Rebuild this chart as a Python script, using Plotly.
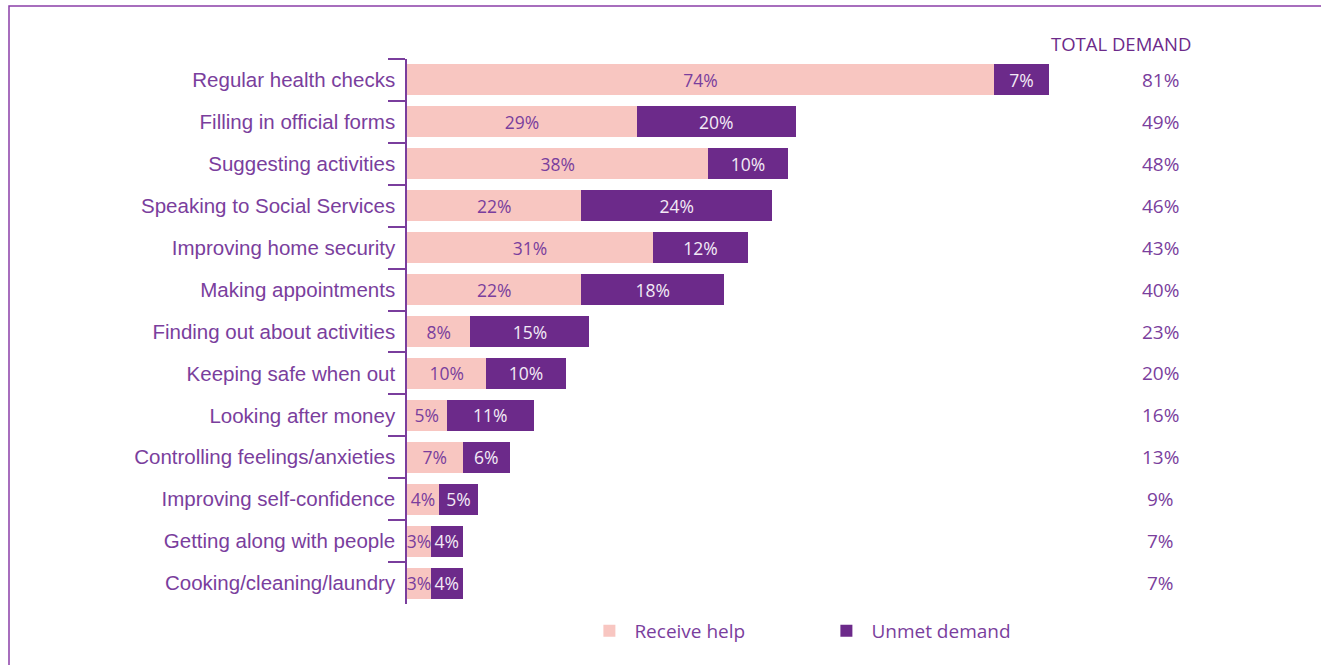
import plotly.graph_objects as go

categories = [
    "Regular health checks", "Filling in official forms", "Suggesting activities",
    "Speaking to Social Services", "Improving home security", "Making appointments",
    "Finding out about activities", "Keeping safe when out", "Looking after money",
    "Controlling feelings/anxieties", "Improving self-confidence",
    "Getting along with people", "Cooking/cleaning/laundry",
]
receive_help = [74, 29, 38, 22, 31, 22, 8, 10, 5, 7, 4, 3, 3]
unmet_demand = [7, 20, 10, 24, 12, 18, 15, 10, 11, 6, 5, 4, 4]
total_demand = [81, 49, 48, 46, 43, 40, 23, 20, 16, 13, 9, 7, 7]

PINK = "#F8C6C1"
PURPLE = "#6C2A8A"
TXT = "#7A3E9D"
LABEL_FONT = "Open Sans"

fig = go.Figure()
fig.add_trace(go.Bar(
    y=categories, x=receive_help, orientation="h", name="Receive help",
    marker=dict(color=PINK, line=dict(width=0)),
    text=[f"{v}%" for v in receive_help], textposition="inside", textangle=0,
    insidetextanchor="middle", constraintext="none",
    textfont=dict(color=TXT, size=17.5, family=LABEL_FONT),
    width=0.74, hoverinfo="skip",
))
fig.add_trace(go.Bar(
    y=categories, x=unmet_demand, orientation="h", name="Unmet demand",
    marker=dict(color=PURPLE, line=dict(width=0)),
    text=[f"{v}%" for v in unmet_demand], textposition="inside", textangle=0,
    insidetextanchor="middle", constraintext="none",
    textfont=dict(color="#F3EAF6", size=17.5, family=LABEL_FONT),
    width=0.74, hoverinfo="skip",
))

annotations = []
for cat, tot in zip(categories, total_demand):
    annotations.append(dict(
        x=95, y=cat, xref="x", yref="y", text=f"{tot}%", showarrow=False,
        xanchor="center", yanchor="middle",
        font=dict(color=TXT, size=19, family=LABEL_FONT),
    ))
annotations.append(dict(
    x=90, y=1, xref="x", yref="paper", yshift=16, text="TOTAL DEMAND", showarrow=False,
    xanchor="center", yanchor="middle",
    font=dict(color=PURPLE, size=18.5, family=LABEL_FONT),
))

fig.update_layout(
    width=1321, height=665,
    barmode="stack",
    paper_bgcolor="white", plot_bgcolor="white",
    margin=dict(l=407, r=121, t=59, b=61),
    bargap=0.26,
    uniformtext=dict(minsize=17, mode="show"),
    xaxis=dict(range=[0, 100], showgrid=False, zeroline=False, showticklabels=False,
               showline=False, ticks=""),
    yaxis=dict(categoryorder="array", categoryarray=categories, autorange="reversed",
               showgrid=False, zeroline=False, showline=True, linecolor=TXT, linewidth=1.5,
               ticks="outside", tickson="boundaries", ticklen=17, tickwidth=1.5,
               tickcolor=TXT, ticklabelstandoff=6,
               tickfont=dict(color=TXT, size=20.5, family="Liberation Sans")),
    legend=dict(orientation="h", x=0.2237, y=-0.0145, xanchor="left", yanchor="top",
                font=dict(color=TXT, size=19, family=LABEL_FONT),
                itemwidth=40, traceorder="normal", entrywidth=182),
    annotations=annotations,
    shapes=[dict(type="rect", xref="paper", yref="paper",
                 x0=-398/793, x1=1.3, y0=-0.5, y1=1 + 53/545,
                 line=dict(color="#8A3FA8", width=1.5), fillcolor="rgba(0,0,0,0)",
                 layer="below")],
    showlegend=True,
)

fig.write_html("out.html", config={"displayModeBar": False},
               post_script="document.body.style.margin='0';document.body.style.overflow='hidden';")
